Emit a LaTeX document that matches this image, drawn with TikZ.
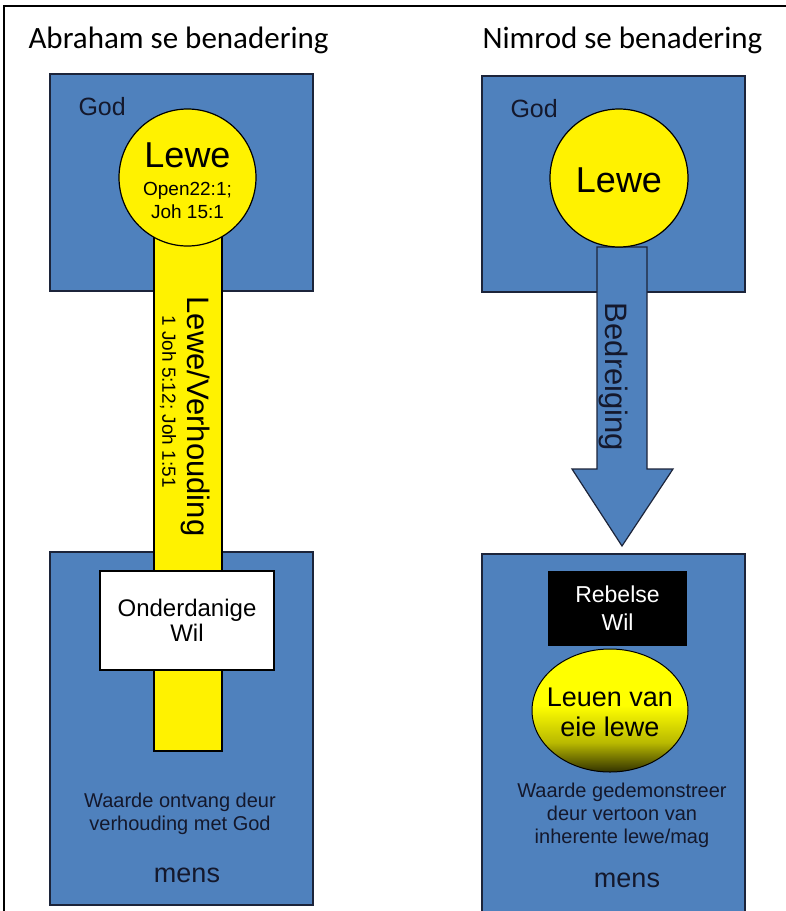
\documentclass[tikz,border=0pt]{standalone}
\usepackage{fontspec}
\setmainfont{Liberation Sans}
\newfontfamily\titlefont{Carlito}
\usetikzlibrary{shapes.geometric}

\definecolor{godblue}{RGB}{79,129,189}
\definecolor{boxedge}{RGB}{28,36,58}
\definecolor{inkblue}{RGB}{20,24,44}
\definecolor{oliveshade}{RGB}{50,50,0}
\definecolor{midshade}{RGB}{185,185,0}
\pgfdeclareverticalshading{leuen}{100bp}{color(0bp)=(oliveshade); color(25bp)=(oliveshade); color(37bp)=(midshade); color(52bp)=(yellow); color(100bp)=(yellow)}

\tikzset{
  realm/.style={draw=boxedge, line width=1.2pt, fill=godblue, inner sep=0pt},
  life/.style={circle, draw=black, line width=1.2pt, fill=yellow, inner sep=0pt},
  lifebar/.style={draw=black, line width=1.2pt, fill=yellow, inner sep=0pt},
  willbox/.style={draw=black, line width=1.2pt, fill=white, align=center,
    font=\fontsize{24}{25}\selectfont},
  rebelbox/.style={fill=black, text=white, align=center,
    font=\fontsize{23}{28}\selectfont},
  heading/.style={font=\titlefont\fontsize{31}{36}\selectfont, anchor=base west},
  realmlabel/.style={text=inkblue, font=\fontsize{25}{28}\selectfont, anchor=base west},
  note/.style={text=inkblue, align=center, font=\fontsize{20}{23}\selectfont},
  manlabel/.style={text=inkblue, font=\fontsize{27}{30}\selectfont}
}

\begin{document}
\begin{tikzpicture}[x=1pt, y=-1pt]
\useasboundingbox (0,0) rectangle (786,911);
\draw[line width=2pt] (4,915) -- (4,6) -- (790,6);

% Abraham
\node[heading] (headL) at (25,48) {Abraham se benadering};
\node[realm, minimum width=263pt, minimum height=217pt] (godL) at (181.5,182.5) {};
\node[realm, minimum width=263pt, minimum height=353pt] (mensL) at (181.5,728.5) {};
\node[lifebar, minimum width=68pt, minimum height=521pt] (barL) at (188,490.5) {};
\node[life, minimum size=137pt] (lifeL) at (187.5,177.5) {};
\node[willbox, minimum width=174pt, minimum height=99pt] (willL) at (187,620.5) {Onderdanige\\Wil};

\node[realmlabel] (godlblL) at (75,115) {God};
\node[anchor=base, font=\fontsize{36}{40}\selectfont] (lewelblL) at (187.5,167) {Lewe};
\node[anchor=base, font=\fontsize{19}{22}\selectfont] (refA) at (187.5,195) {Open22:1;};
\node[anchor=base, font=\fontsize{19}{22}\selectfont] (refB) at (187.5,218) {Joh 15:1};
\node[rotate=-90, font=\fontsize{31}{34}\selectfont] (barlbl) at (196,416.5) {Lewe/Verhouding};
\node[rotate=-90, font=\fontsize{19}{22}\selectfont] (barref) at (168,401.5) {1 Joh 5:12; Joh 1:51};
\node[note] (valueL) at (180,813.5) {Waarde ontvang deur\\verhouding met God};
\node[manlabel] (manL) at (187,875) {mens};

% Nimrod
\node[heading] (headR) at (479,48) {Nimrod se benadering};
\node[realm, minimum width=263pt, minimum height=216pt] (godR) at (613.5,184) {};
\node[realm, minimum width=263pt, minimum height=381pt] (mensR) at (613.5,744.5) {};
\draw[realm] (597,247) -- (647,247) -- (647,469) -- (673,469) -- (622,546)
  -- (572,469) -- (597,469) -- cycle;
\node[life, minimum size=138pt] (lifeR) at (619,178) {};
\node[rebelbox, minimum width=139pt, minimum height=75pt] (rebelR) at (617.5,608.5) {Rebelse\\Wil};
\node[ellipse, draw=black, line width=1pt, shading=leuen, minimum width=156pt,
  minimum height=123pt, inner sep=0pt] (selfR) at (610,710.5) {};

\node[realmlabel] (godlblR) at (507,117) {God};
\node[font=\fontsize{36}{40}\selectfont] (lewelblR) at (619,180) {Lewe};
\node[rotate=-90, text=inkblue, font=\fontsize{31}{34}\selectfont] (threatlbl) at (614,377) {Bedreiging};
\node[align=center, font=\fontsize{27}{30}\selectfont] (selflbl) at (610,712) {Leuen van\\eie lewe};
\node[note] (valueR) at (622,815) {Waarde gedemonstreer\\deur vertoon van\\inherente lewe/mag};
\node[manlabel] (manR) at (627,880) {mens};
\end{tikzpicture}
\end{document}
